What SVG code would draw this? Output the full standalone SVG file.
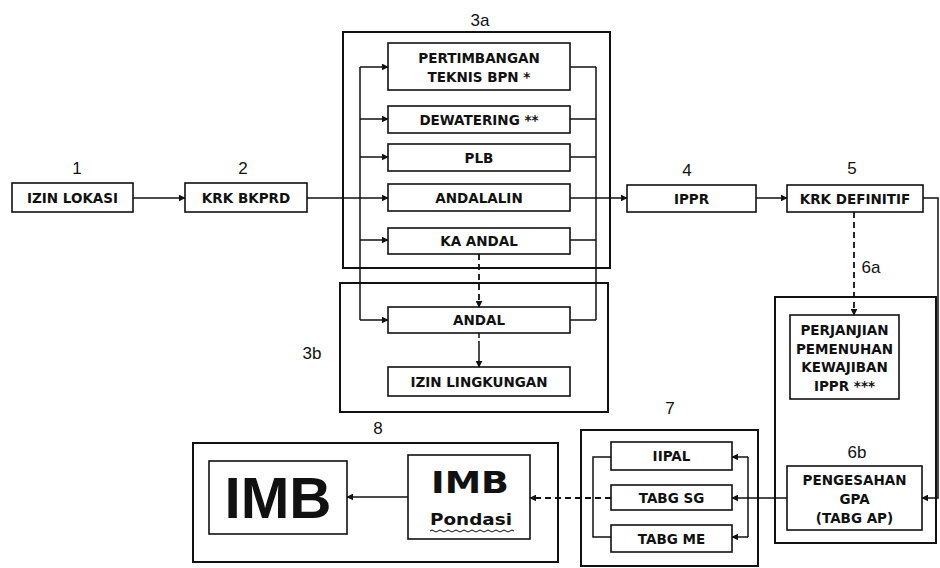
<svg xmlns="http://www.w3.org/2000/svg" width="940" height="568" viewBox="0 0 940 568">
<style>
.bg{fill:#fff}
.box{fill:#fff;stroke:#111;stroke-width:1.6}
.outer{fill:none;stroke:#111;stroke-width:2}
.lbl{font-family:"DejaVu Sans",Verdana,sans-serif;font-weight:bold;font-size:13.5px;fill:#111;text-anchor:middle;dominant-baseline:central}
.num{font-family:"Liberation Sans",Arial,sans-serif;font-size:17px;fill:#111;text-anchor:middle;dominant-baseline:central}
.ln{fill:none;stroke:#111;stroke-width:1.5}
.dash{fill:none;stroke:#111;stroke-width:1.8;stroke-dasharray:6 4}
</style>
<defs>
<marker id="ah" viewBox="0 0 10 10" refX="9" refY="5" markerWidth="7" markerHeight="7" markerUnits="userSpaceOnUse" orient="auto">
<path d="M0,0 L10,5 L0,10 Z" fill="#111"/>
</marker>
</defs>
<rect class="bg" x="0" y="0" width="940" height="568"/>

<!-- group frames -->
<g id="group-3a"><rect class="outer" x="343" y="32" width="267" height="236"/><text class="num" x="480" y="20">3a</text></g>
<g id="group-3b"><rect class="outer" x="340" y="283" width="268" height="129"/><text class="num" x="312" y="353">3b</text></g>
<g id="group-6"><rect class="outer" x="775" y="297" width="161" height="246"/><text class="num" x="871" y="267">6a</text><text class="num" x="857" y="452">6b</text></g>
<g id="group-7"><rect class="outer" x="581" y="430" width="177" height="136"/><text class="num" x="670" y="408">7</text></g>
<g id="group-8"><rect class="outer" x="193" y="443" width="365" height="119"/><text class="num" x="378" y="428">8</text></g>

<!-- connectors -->
<g id="connectors">
<path class="ln" d="M133,198 H185" marker-end="url(#ah)"/>
<path class="ln" d="M307,198 H388" marker-end="url(#ah)"/>
<path class="ln" d="M360,67 V320"/>
<path class="ln" d="M360,67 H388" marker-end="url(#ah)"/>
<path class="ln" d="M360,119 H388" marker-end="url(#ah)"/>
<path class="ln" d="M360,157 H388" marker-end="url(#ah)"/>
<path class="ln" d="M360,240 H388" marker-end="url(#ah)"/>
<path class="ln" d="M360,320 H388" marker-end="url(#ah)"/>
<path class="ln" d="M596,67 V320"/>
<path class="ln" d="M570,67 H596 M570,119 H596 M570,157 H596 M570,240 H596 M570,320 H596"/>
<path class="ln" d="M570,198 H627" marker-end="url(#ah)"/>
<path class="dash" d="M479,254 V307" marker-end="url(#ah)"/>
<path class="ln" d="M479,333 V367" stroke-dasharray="5 3 30" marker-end="url(#ah)"/>
<path class="ln" d="M756,198 H787" marker-end="url(#ah)"/>
<path class="dash" d="M854,212 V315" marker-end="url(#ah)"/>
<path class="ln" d="M923,198 H938 V498 H922" marker-end="url(#ah)"/>
<path class="ln" d="M787,498 H732" marker-end="url(#ah)"/>
<path class="ln" d="M748,457 V537"/>
<path class="ln" d="M748,457 H732" marker-end="url(#ah)"/>
<path class="ln" d="M748,537 H732" marker-end="url(#ah)"/>
<path class="ln" d="M611,457 H593 V537 H611"/>
<path class="dash" d="M611,498 H530" marker-end="url(#ah)"/>
<path class="ln" d="M408,497 H347" marker-end="url(#ah)"/>
</g>

<!-- nodes -->
<g id="n1"><text class="num" x="77" y="168">1</text><rect class="box" x="12" y="183" width="121" height="29"/><text class="lbl" x="72.5" y="198">IZIN LOKASI</text></g>
<g id="n2"><text class="num" x="243" y="168">2</text><rect class="box" x="185" y="183" width="122" height="29"/><text class="lbl" x="246" y="198">KRK BKPRD</text></g>
<g id="n3a-bpn"><rect class="box" x="388" y="43" width="182" height="47"/><text class="lbl" x="479" y="58">PERTIMBANGAN</text><text class="lbl" x="479" y="77">TEKNIS BPN *</text></g>
<g id="n3a-dewatering"><rect class="box" x="388" y="106" width="182" height="27"/><text class="lbl" x="479" y="119.5">DEWATERING **</text></g>
<g id="n3a-plb"><rect class="box" x="388" y="144" width="182" height="27"/><text class="lbl" x="479" y="157.5">PLB</text></g>
<g id="n3a-andalalin"><rect class="box" x="388" y="184" width="182" height="27"/><text class="lbl" x="479" y="197.5">ANDALALIN</text></g>
<g id="n3a-kaandal"><rect class="box" x="388" y="228" width="182" height="26"/><text class="lbl" x="479" y="241">KA ANDAL</text></g>
<g id="n3b-andal"><rect class="box" x="388" y="307" width="182" height="26"/><text class="lbl" x="479" y="320">ANDAL</text></g>
<g id="n3b-izin"><rect class="box" x="388" y="367" width="182" height="29"/><text class="lbl" x="479" y="381.5">IZIN LINGKUNGAN</text></g>
<g id="n4"><text class="num" x="687" y="170">4</text><rect class="box" x="627" y="185" width="129" height="27"/><text class="lbl" x="691.5" y="198.5">IPPR</text></g>
<g id="n5"><text class="num" x="852" y="168">5</text><rect class="box" x="787" y="185" width="136" height="27"/><text class="lbl" x="855" y="198.5">KRK DEFINITIF</text></g>
<g id="n6a"><rect class="box" x="790" y="315" width="109" height="84"/>
<text class="lbl" x="844.5" y="330">PERJANJIAN</text><text class="lbl" x="844.5" y="349">PEMENUHAN</text><text class="lbl" x="844.5" y="367">KEWAJIBAN</text><text class="lbl" x="844.5" y="386">IPPR ***</text></g>
<g id="n6b"><rect class="box" x="787" y="466" width="135" height="64"/>
<text class="lbl" x="854.5" y="480">PENGESAHAN</text><text class="lbl" x="854.5" y="499">GPA</text><text class="lbl" x="854.5" y="518">(TABG AP)</text></g>
<g id="n7-iipal"><rect class="box" x="611" y="442" width="121" height="28"/><text class="lbl" x="671.5" y="456">IIPAL</text></g>
<g id="n7-tabgsg"><rect class="box" x="611" y="485" width="121" height="25"/><text class="lbl" x="671.5" y="497.5">TABG SG</text></g>
<g id="n7-tabgme"><rect class="box" x="611" y="525" width="121" height="27"/><text class="lbl" x="671.5" y="538.5">TABG ME</text></g>
<g id="n8-imb"><rect class="box" x="209" y="461" width="138" height="73"/><text x="278" y="518" font-family="'Liberation Sans',Arial,sans-serif" font-weight="bold" font-size="57" text-anchor="middle" textLength="107" lengthAdjust="spacingAndGlyphs" fill="#111">IMB</text></g>
<g id="n8-pondasi"><rect class="box" x="408" y="455" width="122" height="84"/>
<text x="470" y="493" font-family="'DejaVu Sans',Verdana,sans-serif" font-weight="bold" font-size="30" text-anchor="middle" textLength="78" lengthAdjust="spacingAndGlyphs" fill="#111">IMB</text>
<text x="471" y="525" font-family="'DejaVu Sans',Verdana,sans-serif" font-weight="bold" font-size="15" text-anchor="middle" textLength="82" lengthAdjust="spacingAndGlyphs" fill="#111">Pondasi</text>
<path d="M430,531 q2,-2 4,0 t4,0 t4,0 t4,0 t4,0 t4,0 t4,0 t4,0 t4,0 t4,0 t4,0 t4,0 t4,0 t4,0 t4,0 t4,0 t4,0 t4,0 t4,0 t4,0 t4,0" fill="none" stroke="#111" stroke-width="1"/></g>
</svg>
